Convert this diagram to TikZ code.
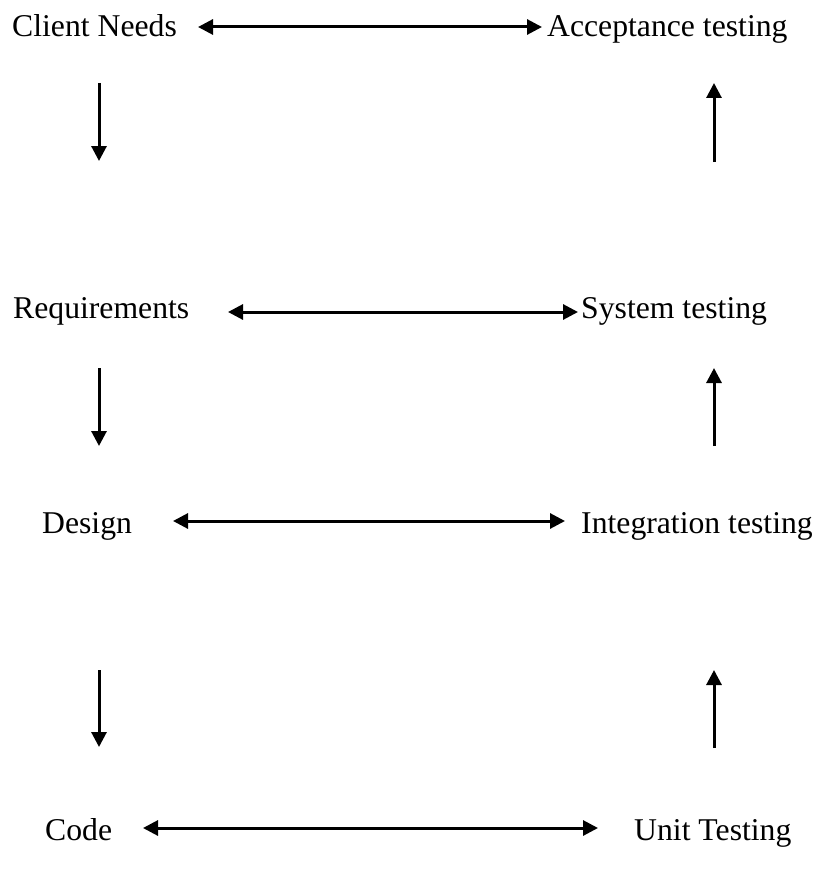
\documentclass[tikz,border=0pt]{standalone}
\usepackage{fontspec}
\setmainfont{Liberation Serif}
\usetikzlibrary{arrows.meta}
\begin{document}
\begin{tikzpicture}[x=1pt,y=-1pt,
  lbl/.style={anchor=base west,inner sep=0pt,font=\fontsize{31.7}{35}\selectfont},
  tip/.style={},
  link/.style={line width=3pt,{Triangle[length=15pt,width=15pt]}-{Triangle[length=15pt,width=15pt]}},
  flow/.style={line width=3pt,-{Triangle[length=15pt,width=15pt]}}]
\useasboundingbox (0,0) rectangle (817,872);
% left column: development stages
\node[lbl] (cn) at (12,37) {Client Needs};
\node[lbl] (rq) at (13,318) {Requirements};
\node[lbl] (ds) at (42,533) {Design};
\node[lbl] (cd) at (45,840) {Code};
% right column: testing stages
\node[lbl] (at) at (547,37) {Acceptance testing};
\node[lbl] (st) at (581,318) {System testing};
\node[lbl] (it) at (581,533) {Integration testing};
\node[lbl] (ut) at (634,840) {Unit Testing};
% horizontal links
\coordinate (h1a) at (198,27); \coordinate (h1b) at (542,27);
\coordinate (h2a) at (228,312); \coordinate (h2b) at (578,312);
\coordinate (h3a) at (173,521); \coordinate (h3b) at (565,521);
\coordinate (h4a) at (143,828); \coordinate (h4b) at (598,828);
\draw[link] (h1a) -- (h1b);
\draw[link] (h2a) -- (h2b);
\draw[link] (h3a) -- (h3b);
\draw[link] (h4a) -- (h4b);
% downward arrows
\coordinate (d1a) at (99,83);  \coordinate (d1b) at (99,161);
\coordinate (d2a) at (99,368); \coordinate (d2b) at (99,446);
\coordinate (d3a) at (99,670); \coordinate (d3b) at (99,747);
\draw[flow] (d1a) -- (d1b);
\draw[flow] (d2a) -- (d2b);
\draw[flow] (d3a) -- (d3b);
% upward arrows
\coordinate (u1a) at (714,162); \coordinate (u1b) at (714,83);
\coordinate (u2a) at (714,446); \coordinate (u2b) at (714,368);
\coordinate (u3a) at (714,748); \coordinate (u3b) at (714,670);
\draw[flow] (u1a) -- (u1b);
\draw[flow] (u2a) -- (u2b);
\draw[flow] (u3a) -- (u3b);
\end{tikzpicture}
\end{document}
